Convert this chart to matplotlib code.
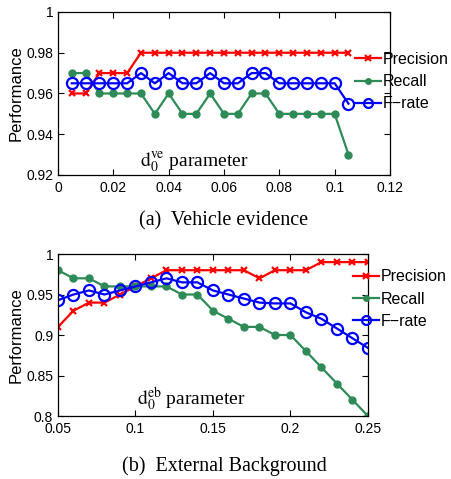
import numpy as np
import matplotlib
matplotlib.use('Agg')
import matplotlib.pyplot as plt

plt.rcParams['font.family'] = ['Liberation Sans', 'DejaVu Sans']
plt.rcParams['mathtext.fontset'] = 'stix'

# (a) vehicle evidence
x_ve = [0.005, 0.01, 0.015, 0.02, 0.025, 0.03, 0.035, 0.04, 0.045, 0.05, 0.055,
        0.06, 0.065, 0.07, 0.075, 0.08, 0.085, 0.09, 0.095, 0.1, 0.105]
prec_ve = [0.96, 0.96, 0.97, 0.97, 0.97, 0.98, 0.98, 0.98, 0.98, 0.98, 0.98,
           0.98, 0.98, 0.98, 0.98, 0.98, 0.98, 0.98, 0.98, 0.98, 0.98]
rec_ve = [0.97, 0.97, 0.96, 0.96, 0.96, 0.96, 0.95, 0.96, 0.95, 0.95, 0.96,
          0.95, 0.95, 0.96, 0.96, 0.95, 0.95, 0.95, 0.95, 0.95, 0.93]
f_ve = [0.965, 0.965, 0.965, 0.965, 0.965, 0.97, 0.965, 0.97, 0.965, 0.965, 0.97,
        0.965, 0.965, 0.97, 0.97, 0.965, 0.965, 0.965, 0.965, 0.965, 0.955]

# (b) external background
x_eb = [0.05, 0.06, 0.07, 0.08, 0.09, 0.1, 0.11, 0.12, 0.13, 0.14, 0.15,
        0.16, 0.17, 0.18, 0.19, 0.2, 0.21, 0.22, 0.23, 0.24, 0.25]
prec_eb = [0.91, 0.93, 0.94, 0.94, 0.95, 0.96, 0.97, 0.98, 0.98, 0.98, 0.98,
           0.98, 0.98, 0.97, 0.98, 0.98, 0.98, 0.99, 0.99, 0.99, 0.99]
rec_eb = [0.98, 0.97, 0.97, 0.96, 0.96, 0.96, 0.96, 0.96, 0.95, 0.95, 0.93,
          0.92, 0.91, 0.91, 0.90, 0.90, 0.88, 0.86, 0.84, 0.82, 0.80]
f_eb = [0.943, 0.95, 0.955, 0.95, 0.955, 0.96, 0.965, 0.97, 0.965, 0.965, 0.955,
        0.95, 0.945, 0.94, 0.939, 0.939, 0.928, 0.92, 0.908, 0.896, 0.884]

red = '#ff0000'
green = '#2e8b57'
blue = '#0000ff'

fig = plt.figure(figsize=(4.52, 4.79), dpi=100)
ax1 = fig.add_axes([0.1283, 0.6347, 0.7345, 0.3403])
ax2 = fig.add_axes([0.1283, 0.1315, 0.6858, 0.3382])


def draw(ax, x, p, r, f):
    ax.plot(x, p, '-x', color=red, lw=1.6, ms=5, mew=1.6, label='Precision')
    ax.plot(x, r, '-o', color=green, lw=1.6, ms=5, mec=green, label='Recall')
    ax.plot(x, f, '-o', color=blue, lw=1.6, ms=8, mfc='none', mew=1.6, label='F\u2212rate')
    ax.tick_params(direction='in', top=True, right=True, labelsize=10, length=4, width=0.8)
    ax.tick_params(axis='x', pad=4.5)
    for s in ax.spines.values():
        s.set_linewidth(0.9)
    ax.set_ylabel('Performance', fontsize=12, labelpad=2)
    leg = ax.legend(loc='upper left', frameon=False, fontsize=11.5, handlelength=1.6,
                    handletextpad=0.15, labelspacing=0.45, borderaxespad=0,
                    borderpad=0, markerscale=0.8)
    return leg


leg1 = draw(ax1, x_ve, prec_ve, rec_ve, f_ve)
leg1.set_bbox_to_anchor((297 / 332, 0.755), transform=ax1.transAxes)
ax1.set_xlim(0, 0.12)
ax1.set_ylim(0.92, 1.0)
ax1.set_xticks([0, 0.02, 0.04, 0.06, 0.08, 0.1, 0.12])
ax1.set_xticklabels(['0', '0.02', '0.04', '0.06', '0.08', '0.1', '0.12'])
ax1.set_yticks([0.92, 0.94, 0.96, 0.98, 1.0])
ax1.set_yticklabels(['0.92', '0.94', '0.96', '0.98', '1'])
ax1.text(0.41, 0.05, r'$\mathrm{d}_0^{\mathrm{ve}}$ parameter', transform=ax1.transAxes,
         ha='center', va='baseline', fontsize=14, family='Liberation Serif')

leg2 = draw(ax2, x_eb, prec_eb, rec_eb, f_eb)
leg2.set_bbox_to_anchor((295 / 310, 0.905), transform=ax2.transAxes)
ax2.set_xlim(0.05, 0.25)
ax2.set_ylim(0.8, 1.0)
ax2.set_xticks([0.05, 0.1, 0.15, 0.2, 0.25])
ax2.set_xticklabels(['0.05', '0.1', '0.15', '0.2', '0.25'])
ax2.set_yticks([0.8, 0.85, 0.9, 0.95, 1.0])
ax2.set_yticklabels(['0.8', '0.85', '0.9', '0.95', '1'])
ax2.text(0.43, 0.068, r'$\mathrm{d}_0^{\mathrm{eb}}$ parameter', transform=ax2.transAxes,
         ha='center', va='baseline', fontsize=14, family='Liberation Serif')

fig.text(224 / 452, 1 - 221 / 479, '(a)  Vehicle evidence', ha='center', va='center',
         fontsize=14.5, family='Liberation Serif')
fig.text(224 / 452, 1 - 466 / 479, '(b)  External Background', ha='center', va='center',
         fontsize=14.5, family='Liberation Serif')

fig.savefig('out.png', dpi=100)
